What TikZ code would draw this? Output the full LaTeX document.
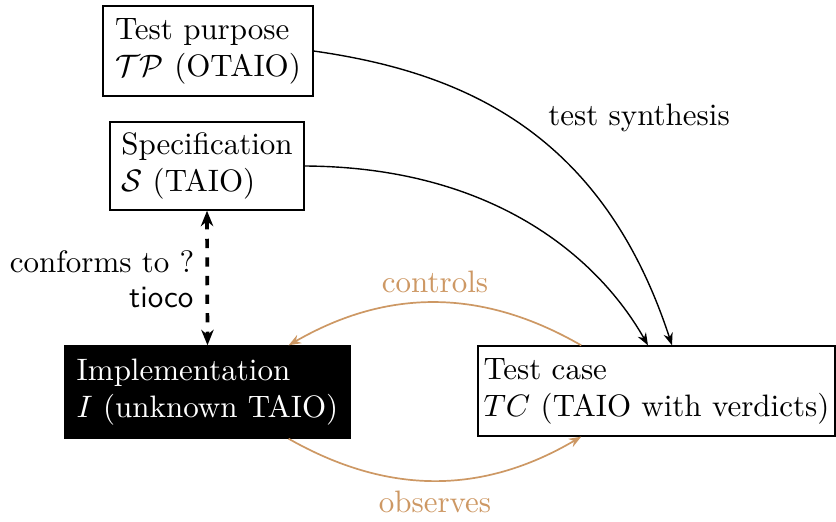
\documentclass[tikz,border=0pt]{standalone}
\usetikzlibrary{arrows.meta,calc}
\definecolor{ctrl}{RGB}{205,152,100}
\begin{document}
\begin{tikzpicture}[x=0.3226pt,y=0.3226pt,
  box/.style={draw, line width=0.45pt, align=left, inner sep=0pt},
  arr/.style={-{Stealth[length=4pt,width=3pt]}, line width=0.45pt},
  carr/.style={-{Stealth[length=4pt,width=3pt]}, line width=0.55pt, draw=ctrl},
  lab/.style={inner sep=0pt},
]
\useasboundingbox (0,0) rectangle (836,-521);
\node[box, minimum width=67.7pt, minimum height=29.0pt] (tp) at (208,-51)
  {Test purpose\\$\mathcal{TP}$ (OTAIO)};
\node[box, minimum width=62.6pt, minimum height=28.4pt] (spec) at (207,-166)
  {Specification\\$\mathcal{S}$ (TAIO)};
\node[box, fill=black, text=white, minimum width=91.9pt, minimum height=29.7pt] (impl) at (207.5,-392)
  {Implementation\\$I$ (unknown TAIO)};
\node[box, minimum width=115.2pt, minimum height=29.0pt] (tc) at (656.5,-391)
  {Test case\\$TC$ (TAIO with verdicts)};

\draw[arr] (tp.east) .. controls (461.5,-72) and (602,-131) .. ($(tc.north)+(15.5,0)$);
\draw[arr] (spec.east) .. controls (495,-167) and (599,-259) .. ($(tc.north)+(-8.5,0)$);
\node[lab] (ts) at (639,-118) {test synthesis};

\draw[very thick, dashed, {Stealth[length=5pt,width=4pt]}-{Stealth[length=5pt,width=4pt]}] (spec.south) -- (impl.north);
\node[lab, anchor=east] (conf) at (195,-262) {conforms to ?};
\node[lab, anchor=east] (tioco) at (194,-298) {\sffamily tioco};

\draw[carr] ($(tc.north west)+(104,0)$) to[bend right=30] ($(impl.north east)+(-62,0)$);
\draw[carr] ($(impl.south east)+(-62,0)$) to[bend right=30] ($(tc.south west)+(104,0)$);
\node[lab, text=ctrl] (ctl) at (435,-282) {controls};
\node[lab, text=ctrl] (obs) at (435,-502) {observes};
\end{tikzpicture}
\end{document}
